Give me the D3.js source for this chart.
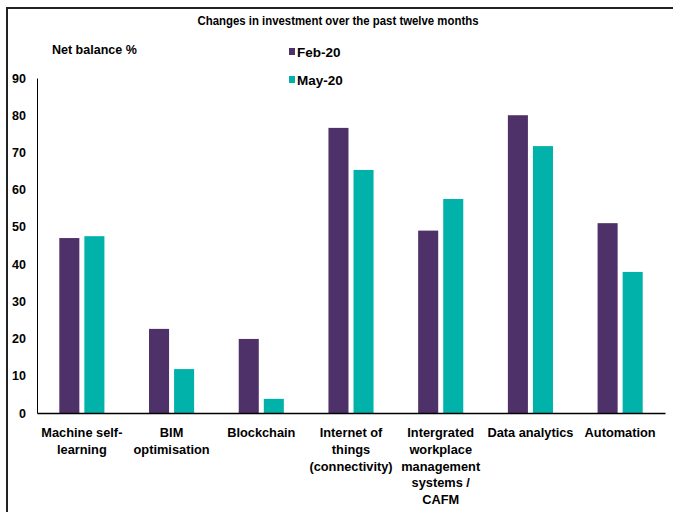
<!DOCTYPE html>
<html>
<head>
<meta charset="utf-8">
<script src="https://cdn.jsdelivr.net/npm/d3@7"></script>
<style>
  body { margin: 0; background: #fff; }
  text { font-family: "Liberation Sans", Arial, sans-serif; font-weight: bold; fill: #000; }
</style>
</head>
<body>
<div id="plot"></div>
<script>
// values
const categories = [
  ["Machine self-", "learning"],
  ["BIM", "optimisation"],
  ["Blockchain"],
  ["Internet of", "things", "(connectivity)"],
  ["Intergrated", "workplace", "management", "systems /", "CAFM"],
  ["Data analytics"],
  ["Automation"]
];
const seriesNames = ["Feb-20", "May-20"];
const feb20 = [47.0, 22.6, 19.9, 76.6, 49.0, 80.0, 51.0];
const may20 = [47.5, 11.8, 3.8, 65.3, 57.5, 71.7, 37.9];
const yTicks = [0, 10, 20, 30, 40, 50, 60, 70, 80, 90];

const colors = ["#4f3169", "#00b2a9"];

const width = 673, height = 512;
const margin = { left: 37, right: 8, top: 78, bottom: 99 };

const svg = d3.select("#plot").append("svg")
  .attr("width", width)
  .attr("height", height);

// frame lines (top and left)
svg.append("path")
  .attr("d", "M7,512 V8 H673")
  .attr("fill", "none")
  .attr("stroke", "#222")
  .attr("stroke-width", 2);

const x = d3.scaleBand()
  .domain(d3.range(categories.length))
  .range([margin.left, width - margin.right]);

const x1 = d3.scaleBand()
  .domain(seriesNames)
  .range([0, x.bandwidth()])
  .paddingInner(0.2)
  .paddingOuter(0.89);

const y = d3.scaleLinear()
  .domain([0, 90])
  .range([height - margin.bottom, margin.top]);

const rows = categories.map((c, i) => ({ i: i, vals: [feb20[i], may20[i]] }));

const groups = svg.selectAll(".grp")
  .data(rows)
  .enter().append("g")
    .attr("class", "grp")
    .attr("transform", d => "translate(" + x(d.i) + ",0)");

groups.selectAll("rect")
  .data(d => d.vals.map((v, k) => ({ name: seriesNames[k], v: v, k: k })))
  .enter().append("rect")
    .attr("x", d => x1(d.name))
    .attr("width", x1.bandwidth())
    .attr("y", d => y(d.v))
    .attr("height", d => y(0) - y(d.v))
    .attr("fill", d => colors[d.k]);

// y axis
const yAxis = svg.append("g")
  .attr("transform", "translate(" + margin.left + ",0)")
  .call(d3.axisLeft(y).tickValues(yTicks).tickSize(0).tickPadding(11));
yAxis.select(".domain").attr("stroke", "#000").attr("stroke-width", 1);
yAxis.selectAll("text")
  .style("font-family", "'Liberation Sans', Arial, sans-serif")
  .style("font-weight", "bold")
  .style("font-size", "12.5px");

// x axis
const xAxis = svg.append("g")
  .attr("transform", "translate(0," + y(0) + ")")
  .call(d3.axisBottom(x).tickSize(0).tickFormat(""));
xAxis.select(".domain").attr("stroke", "#000").attr("stroke-width", 1.5);

const labels = svg.selectAll(".xlab")
  .data(rows)
  .enter().append("text")
    .attr("class", "xlab")
    .attr("text-anchor", "middle")
    .style("font-size", "12.8px")
    .attr("transform", d => "translate(" + (x(d.i) + x.bandwidth() / 2) + "," + (y(0) + 24) + ")");

labels.selectAll("tspan")
  .data(d => categories[d.i])
  .enter().append("tspan")
    .attr("x", 0)
    .attr("y", (d, k) => k * 16.8)
    .text(d => d);

// title (condensed in the original)
svg.append("text")
  .attr("x", 338)
  .attr("y", 25)
  .attr("text-anchor", "middle")
  .attr("textLength", 281)
  .attr("lengthAdjust", "spacingAndGlyphs")
  .style("font-size", "13px")
  .text("Changes in investment over the past twelve months");

svg.append("text")
  .attr("x", 52)
  .attr("y", 54)
  .style("font-size", "12.5px")
  .text("Net balance %");

// legend
const legend = svg.selectAll(".leg")
  .data(seriesNames)
  .enter().append("g")
    .attr("class", "leg")
    .attr("transform", (d, i) => "translate(289," + (57 + i * 28) + ")");

legend.append("rect")
  .attr("x", 0)
  .attr("y", -9)
  .attr("width", 6)
  .attr("height", 7)
  .attr("fill", (d, i) => colors[i]);

legend.append("text")
  .attr("x", 8)
  .attr("y", 0)
  .style("font-size", "13.5px")
  .text(d => d);
</script>
</body>
</html>
